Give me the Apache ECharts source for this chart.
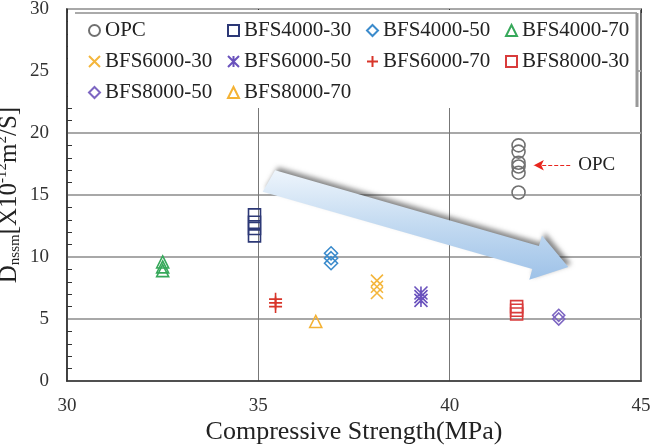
<!DOCTYPE html>
<html>
<head>
<meta charset="utf-8">
<script src="https://cdn.jsdelivr.net/npm/echarts@6/dist/echarts.min.js"></script>
<style>
  html, body { margin: 0; padding: 0; background: #fff; }
  #chart { width: 662px; height: 445px; }
</style>
</head>
<body>
<div id="chart"></div>
<script>
// compressive strength (x) and D_nssm readings (y) per mix
const seriesNames = ['OPC', 'BFS4000-30', 'BFS4000-50', 'BFS4000-70', 'BFS6000-30',
  'BFS6000-50', 'BFS6000-70', 'BFS8000-30', 'BFS8000-50', 'BFS8000-70'];
const strength = [41.8, 34.9, 36.9, 32.5, 38.1, 39.25, 35.45, 41.75, 42.85, 36.5];
const opcY = [19.0, 18.5, 17.6, 17.3, 16.8, 15.2];
const bfs4000_30Y = [13.4, 12.8, 12.3, 11.7];
const bfs4000_50Y = [10.3, 9.9, 9.5];
const bfs4000_70Y = [9.6, 9.2, 8.9];
const bfs6000_30Y = [8.1, 7.6, 7.1];
const bfs6000_50Y = [7.1, 6.8, 6.5];
const bfs6000_70Y = [6.6, 6.3, 6.0];
const bfs8000_30Y = [6.0, 5.7, 5.4];
const bfs8000_50Y = [5.3, 5.0];
const bfs8000_70Y = [4.8];
const xTicks = [30, 45, 5];
const yTicks = [0, 30, 5];

const yValues = [opcY, bfs4000_30Y, bfs4000_50Y, bfs4000_70Y, bfs6000_30Y,
  bfs6000_50Y, bfs6000_70Y, bfs8000_30Y, bfs8000_50Y, bfs8000_70Y];
const colors = ['#707070', '#2c3876', '#3b8bcc', '#36a85a', '#f4b63c',
  '#6a52bd', '#d8352a', '#d93b3b', '#7d66c2', '#f4b234'];
const symbols = ['circle', 'rect', 'diamond', 'triangle',
  'path://M0,0L10,10M10,0L0,10',
  'path://M0,0L10,10M10,0L0,10M5,0L5,10',
  'path://M5,0L5,10M0,5L10,5',
  'rect', 'diamond', 'triangle'];
const sizes = [13, 12, 13, 12, 12, 13, 13, 12, 12, 12];

const serif = '"Liberation Serif", "DejaVu Serif", serif';
const chart = echarts.init(document.getElementById('chart'));

const series = seriesNames.map((name, i) => {
  const s = {
    name: name,
    type: 'scatter',
    z: 3,
    symbol: symbols[i],
    symbolSize: sizes[i],
    itemStyle: { color: 'rgba(255,255,255,0)', borderColor: colors[i], borderWidth: 1.6, opacity: 1 },
    emphasis: { disabled: true },
    data: yValues[i].map(v => [strength[i], v])
  };
  if (name === 'OPC') {
    s.markLine = {
      silent: true,
      symbol: ['none', 'arrow'],
      symbolSize: [8, 10],
      lineStyle: { color: '#e8261e', type: [4, 2], width: 1.2 },
      label: { show: true, position: 'start', formatter: 'OPC', color: '#222', fontFamily: serif, fontSize: 19, distance: 8 },
      data: [[{ coord: [43.15, 17.4] }, { coord: [42.2, 17.4] }]]
    };
  }
  return s;
});

const axisText = { color: '#333', fontFamily: serif, fontSize: 19 };

chart.setOption({
  animation: false,
  grid: { left: 67, right: 21, top: 9, bottom: 64, show: true, borderColor: '#333', borderWidth: 1.5,
    containLabel: false, outerBoundsMode: 'none' },
  legend: {
    data: seriesNames,
    left: 88, top: 19, width: 570, padding: 0,
    itemWidth: 11, itemHeight: 11, itemGap: 8,
    selectedMode: false, z: 6,
    textStyle: { color: '#222', fontFamily: serif, fontSize: 21, width: 114, lineHeight: 23 }
  },
  xAxis: [{
    type: 'value', min: xTicks[0], max: xTicks[1], interval: xTicks[2],
    name: 'Compressive Strength(MPa)', nameLocation: 'middle', nameGap: 38, nameMoveOverlap: false,
    nameTextStyle: { color: '#222', fontFamily: serif, fontSize: 26 },
    axisLine: { lineStyle: { color: '#333', width: 1.5 } },
    axisTick: { show: false },
    axisLabel: Object.assign({ margin: 16 }, axisText),
    splitLine: { lineStyle: { color: '#777', width: 1 } }
  }, {
    type: 'value', position: 'top', min: xTicks[0], max: xTicks[1], interval: xTicks[2],
    axisLine: { show: false }, axisLabel: { show: false }, splitLine: { show: false },
    axisTick: { inside: true, length: 4, lineStyle: { color: '#333' } }
  }],
  yAxis: {
    type: 'value', min: yTicks[0], max: yTicks[1], interval: yTicks[2],
    name: '{a|D}{sub|nssm}{a|[X10}{sup|-12}{a|m}{sup|2}{a|/S]}',
    nameLocation: 'middle', nameGap: 44, nameRotate: 90, nameMoveOverlap: false,
    nameTextStyle: {
      color: '#222', fontFamily: serif,
      rich: {
        a: { fontSize: 25, fontFamily: serif, color: '#222', lineHeight: 28 },
        sub: { fontSize: 15, fontFamily: serif, color: '#222', verticalAlign: 'bottom', lineHeight: 28 },
        sup: { fontSize: 15, fontFamily: serif, color: '#222', verticalAlign: 'top', lineHeight: 28 }
      }
    },
    axisLine: { lineStyle: { color: '#333', width: 1.5 } },
    axisTick: { show: false, inside: true },
    minorTick: { show: true, splitNumber: 5, length: 5, lineStyle: { color: '#333' } },
    axisLabel: Object.assign({ margin: 18 }, axisText),
    splitLine: { lineStyle: { color: '#a8a8a8', width: 1.8 } }
  },
  series: series
});

// decorations: legend box and trend arrow, positioned from data coords
function px(x, y) { return chart.convertToPixel({ xAxisIndex: 0, yAxisIndex: 0 }, [x, y]); }
const tl = px(30, 30), br = px(45, 0);
const tail = px(35.2, 16.2), tip = px(43.1, 9.2);
const dx = tip[0] - tail[0], dy = tip[1] - tail[1];
const len = Math.sqrt(dx * dx + dy * dy);
const ux = dx / len, uy = dy / len, nx = -uy, ny = ux;
const shaftW = 12, headW = 23, headL = 34;
function pt(along, across) {
  return [tail[0] + ux * along + nx * across, tail[1] + uy * along + ny * across];
}
const arrowPts = [
  pt(6, -shaftW), pt(len - headL, -shaftW), pt(len - headL, -headW), pt(len, 0),
  pt(len - headL, headW), pt(len - headL, shaftW), pt(0, shaftW)
];

chart.setOption({
  graphic: [
    { type: 'rect', z: 1, silent: true,
      shape: { x: tl[0] + 1, y: tl[1] + 1, width: br[0] - tl[0] - 4, height: 98 },
      style: { fill: '#fff' } },
    { type: 'line', z: 2, silent: true,
      shape: { x1: tl[0] + 8, y1: tl[1] + 4, x2: br[0] - 4, y2: tl[1] + 4 },
      style: { stroke: '#aaa', lineWidth: 2 } },
    { type: 'line', z: 2, silent: true,
      shape: { x1: br[0] - 4, y1: tl[1] + 4, x2: br[0] - 4, y2: tl[1] + 98 },
      style: { stroke: '#999', lineWidth: 3 } },
    { type: 'polygon', z: 2, silent: true,
      shape: { points: arrowPts },
      style: {
        fill: new echarts.graphic.LinearGradient(0, 0, 0, 1, [
          { offset: 0, color: '#eef5fc' },
          { offset: 0.5, color: '#c3daf1' },
          { offset: 1, color: '#9ec2e8' }
        ]),
        shadowColor: 'rgba(40,40,40,0.55)', shadowBlur: 5, shadowOffsetX: 3, shadowOffsetY: -3
      } }
  ]
});
</script>
</body>
</html>
